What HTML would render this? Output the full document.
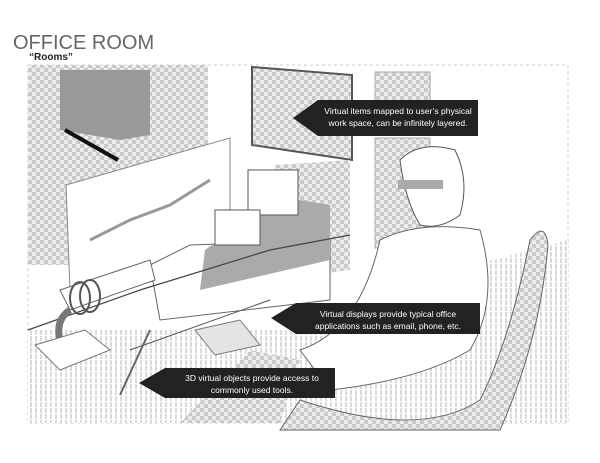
<!DOCTYPE html>
<html><head><meta charset="utf-8"><style>
html,body{margin:0;padding:0;background:#fff;width:600px;height:463px;overflow:hidden}
</style></head><body>
<svg width="600" height="463" viewBox="0 0 600 463" xmlns="http://www.w3.org/2000/svg" font-family="Liberation Sans, sans-serif">
<defs>
<pattern id="ck" width="8" height="8" patternUnits="userSpaceOnUse">
<rect width="8" height="8" fill="#ececec"/><rect width="4" height="4" fill="#cacaca"/><rect x="4" y="4" width="4" height="4" fill="#cacaca"/></pattern>
<pattern id="vl" width="5" height="6" patternUnits="userSpaceOnUse">
<rect width="5" height="6" fill="#fff"/><rect width="2" height="5" fill="#dadada"/></pattern>
</defs>
<text x="13" y="49" font-size="20" fill="#666">OFFICE ROOM</text>
<text x="29" y="60" font-size="10" font-weight="bold" fill="#222">“Rooms”</text>
<rect x="28" y="65" width="540" height="358" fill="none" stroke="#ccc" stroke-dasharray="3,3"/>
<rect x="28" y="330" width="540" height="93" fill="url(#vl)"/>
<polygon points="380,290 568,240 568,423 380,423" fill="url(#vl)"/>
<rect x="28" y="65" width="180" height="200" fill="url(#ck)"/>
<polygon points="60,70 150,70 150,135 120,140 60,130" fill="#999"/>
<line x1="65" y1="130" x2="118" y2="160" stroke="#111" stroke-width="4"/>
<polygon points="66,185 230,138 230,240 70,290" fill="#fff" stroke="#888"/>
<polyline points="90,240 130,220 170,205 210,180" fill="none" stroke="#999" stroke-width="3"/>
<polygon points="252,67 352,75 352,160 252,145" fill="url(#ck)" stroke="#555" stroke-width="2"/>
<rect x="375" y="72" width="55" height="50" fill="url(#ck)" stroke="#aaa"/>
<rect x="375" y="138" width="55" height="110" fill="url(#ck)" stroke="#aaa"/>
<polygon points="275,165 350,160 350,270 275,280" fill="url(#ck)"/>
<polygon points="150,265 190,245 330,240 330,300 160,320" fill="#fff" stroke="#666"/>
<polygon points="205,250 260,210 300,200 330,205 330,260 200,290" fill="#aaa"/>
<rect x="248" y="170" width="50" height="45" fill="#fff" stroke="#555"/>
<rect x="215" y="210" width="45" height="35" fill="#fff" stroke="#555"/>
<polyline points="28,330 140,290 270,250 350,235" fill="none" stroke="#444" stroke-width="1.2"/>
<line x1="130" y1="350" x2="270" y2="300" stroke="#555"/>
<polygon points="60,290 150,260 155,280 70,310" fill="#fff" stroke="#666"/>
<ellipse cx="80" cy="298" rx="10" ry="16" fill="none" stroke="#555" stroke-width="2"/>
<ellipse cx="90" cy="296" rx="10" ry="16" fill="none" stroke="#555" stroke-width="2"/>
<path d="M70 310 Q55 320 60 340" fill="none" stroke="#777" stroke-width="7"/>
<polygon points="35,345 85,330 110,350 60,370" fill="#fff" stroke="#777"/>
<polygon points="195,330 240,320 260,345 215,355" fill="#e4e4e4" stroke="#777"/>
<line x1="120" y1="395" x2="150" y2="330" stroke="#666" stroke-width="2"/>
<path d="M400 160 Q420 140 455 150 Q470 180 460 215 Q440 230 420 225 Q405 200 400 160Z" fill="#fff" stroke="#555"/>
<rect x="398" y="180" width="45" height="9" fill="#aaa"/>
<path d="M380 240 Q420 220 480 230 Q500 300 470 350 Q420 380 330 390 L300 350 Q360 330 380 240Z" fill="#fff" stroke="#666"/>
<path d="M300 400 Q420 440 480 400 Q510 340 530 240 Q545 220 548 245 Q540 340 500 430 L280 430Z" fill="url(#ck)" stroke="#666"/>
<path d="M180 423 L250 350 L300 360 L280 423Z" fill="url(#ck)"/>
<polygon points="293,118 318,100 478,100 478,136 318,136" fill="#222"/>
<text x="398" y="114" font-size="8.5" fill="#fff" text-anchor="middle">Virtual items mapped to user’s physical</text>
<text x="398" y="126" font-size="8.5" fill="#fff" text-anchor="middle">work space, can be infinitely layered.</text>
<polygon points="271,318 296,303 480,303 480,334 296,334" fill="#222"/>
<text x="388" y="317" font-size="8.5" fill="#fff" text-anchor="middle">Virtual displays provide typical office</text>
<text x="388" y="329" font-size="8.5" fill="#fff" text-anchor="middle">applications such as email, phone, etc.</text>
<polygon points="139,383 165,368 335,368 335,398 165,398" fill="#222"/>
<text x="252" y="381" font-size="8.5" fill="#fff" text-anchor="middle">3D virtual objects provide access to</text>
<text x="252" y="393" font-size="8.5" fill="#fff" text-anchor="middle">commonly used tools.</text>
</svg>
</body></html>
